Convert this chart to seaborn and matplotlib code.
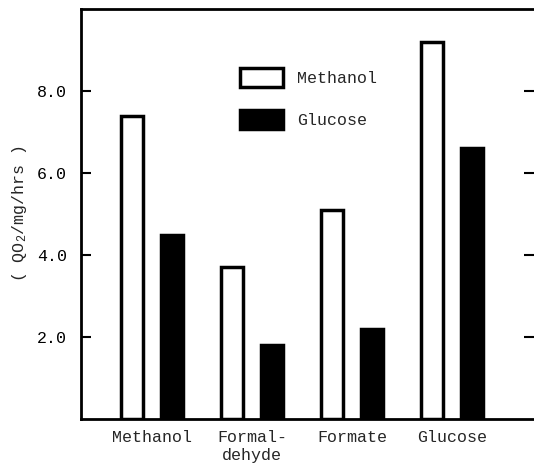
import matplotlib
matplotlib.use("Agg")
import matplotlib.pyplot as plt
import pandas as pd
import seaborn as sns

# ----------------------------
# data
# ----------------------------
substrates = ["Methanol", "Formal-\ndehyde", "Formate", "Glucose"]
grown_on_methanol = [7.4, 3.7, 5.1, 9.2]
grown_on_glucose = [4.5, 1.8, 2.2, 6.6]
series_names = ["Methanol", "Glucose"]
y_ticks = [2.0, 4.0, 6.0, 8.0]

df = pd.DataFrame({
    "substrate": substrates * 2,
    "rate": grown_on_methanol + grown_on_glucose,
    "grown": [series_names[0]] * 4 + [series_names[1]] * 4,
})

sns.set_style("white")
plt.rcParams["font.family"] = ["Liberation Mono", "DejaVu Sans Mono"]
plt.rcParams["mathtext.fontset"] = "custom"
plt.rcParams["mathtext.rm"] = "Liberation Mono"
plt.rcParams["mathtext.it"] = "Liberation Mono"

fig = plt.figure(figsize=(5.34, 4.74), dpi=100)
# frame runs to the right edge of the picture, as in the scan
ax = fig.add_axes([81 / 534, 55 / 474, 453 / 534, 410 / 474])

sns.barplot(
    data=df,
    x="substrate",
    y="rate",
    hue="grown",
    palette=["white", "black"],
    edgecolor="black",
    linewidth=2.5,
    gap=0.45,
    width=0.8,
    ax=ax,
)

# ----------------------------
# axes styling
# ----------------------------
ax.set_xlim(-0.71, 3.82)
ax.set_ylim(0, 10)
ax.set_yticks(y_ticks)
ax.set_yticklabels([f"{t:.1f}" for t in y_ticks], fontsize=12)
ax.tick_params(axis="y", direction="in", length=7, width=1.5,
               left=True, right=True, pad=10, colors="black")
ax.tick_params(axis="x", length=0, pad=8, labelsize=12)
for side in ["left", "top", "bottom"]:
    ax.spines[side].set_visible(True)
    ax.spines[side].set_color("black")
    ax.spines[side].set_linewidth(2)
ax.spines["right"].set_visible(False)

ax.set_xlabel("")
ax.set_ylabel(r"( QO$_\mathrm{2}$/mg/hrs )", fontsize=12)
ax.yaxis.set_label_coords(-0.115, 0.5)

# ----------------------------
# legend
# ----------------------------
ax.legend(
    loc="upper left",
    bbox_to_anchor=(0.318, 0.893),
    frameon=False,
    fontsize=12,
    handlelength=2.6,
    handleheight=1.4,
    labelspacing=1.35,
    handletextpad=0.8,
)

plt.savefig("out.png", dpi=100)
plt.close()
